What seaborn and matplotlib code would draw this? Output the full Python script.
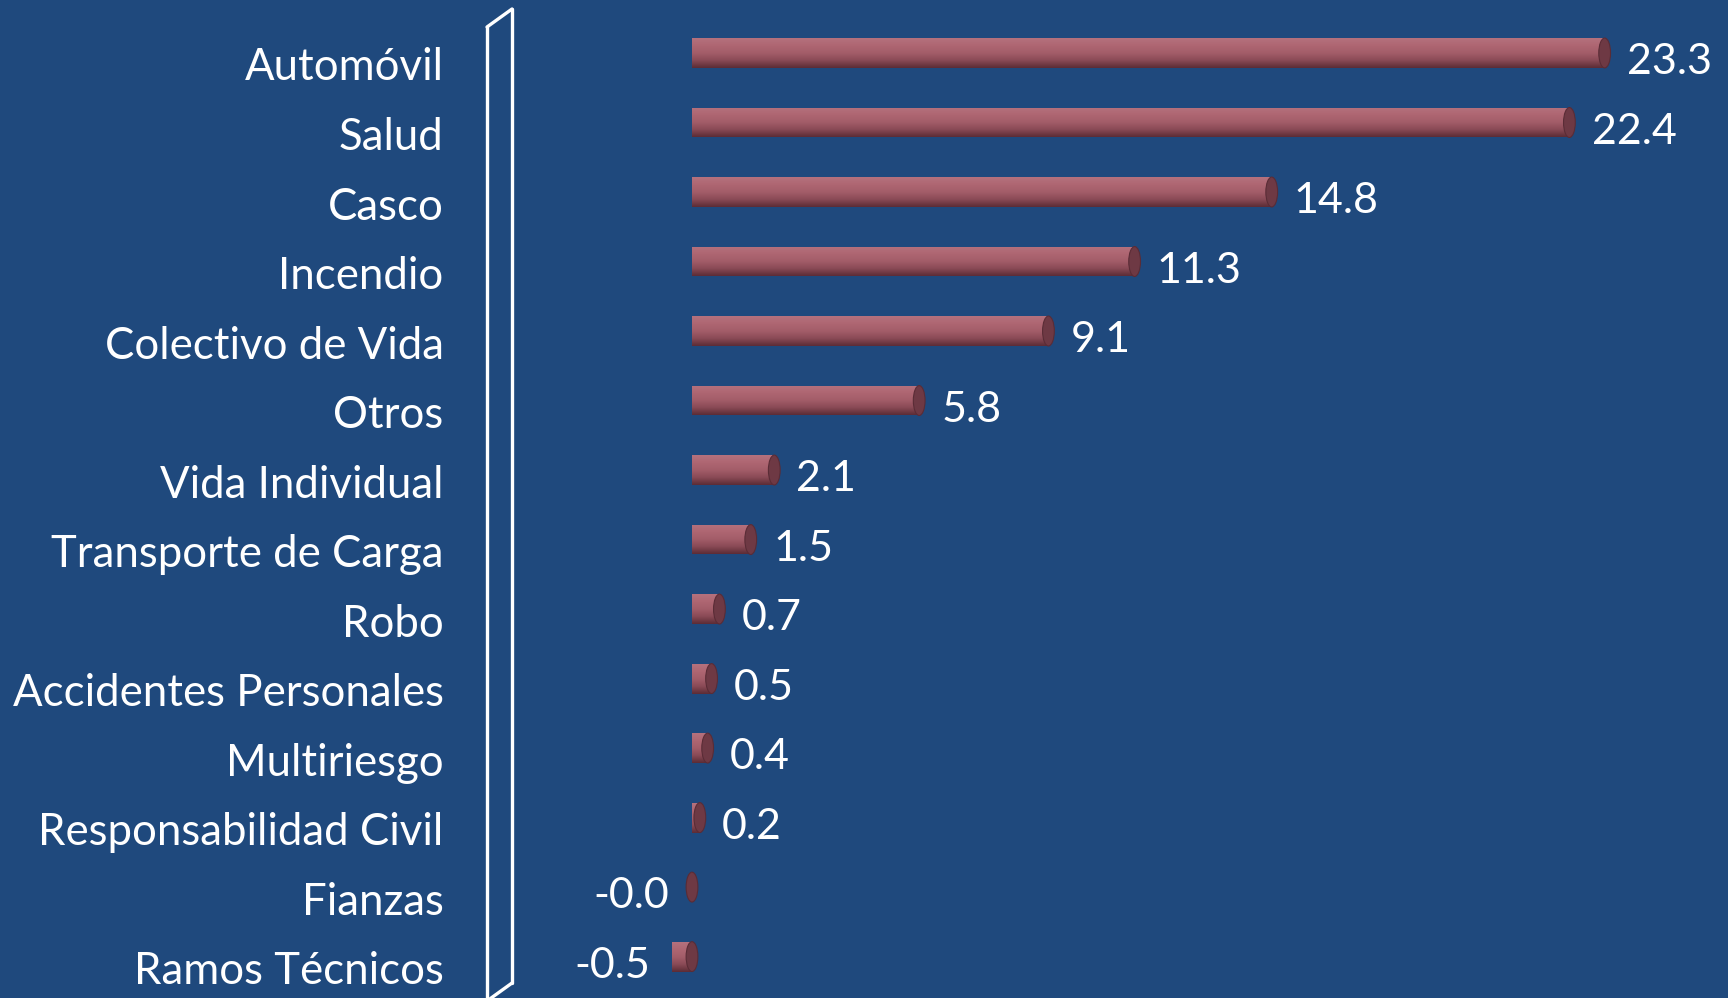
import numpy as np
import pandas as pd
import matplotlib
matplotlib.use("Agg")
import matplotlib.pyplot as plt
import matplotlib.transforms as mtransforms
from matplotlib.patches import Ellipse
from matplotlib.lines import Line2D
from matplotlib.colors import LinearSegmentedColormap
import seaborn as sns

categories = ["Automóvil", "Salud", "Casco", "Incendio", "Colectivo de Vida", "Otros",
              "Vida Individual", "Transporte de Carga", "Robo", "Accidentes Personales",
              "Multiriesgo", "Responsabilidad Civil", "Fianzas", "Ramos Técnicos"]
values = [23.3, 22.4, 14.8, 11.3, 9.1, 5.8, 2.1, 1.5, 0.7, 0.5, 0.4, 0.2, -0.02, -0.5]

BG = "#1F497D"
sns.set_theme(style="white")
plt.rcParams["font.family"] = ["Lato", "DejaVu Sans"]

df = pd.DataFrame({"ramo": categories, "valor": values})

fig = plt.figure(figsize=(17.28, 9.98), dpi=100, facecolor=BG)
ax = fig.add_axes([520 / 1728, 0, 1 - 520 / 1728, 1])
ax.set_facecolor(BG)

bar_w = 0.43
sns.barplot(data=df, y="ramo", x="valor", orient="h", color="#A5606C",
            width=bar_w, ax=ax, saturation=1)

ax.set_xlim((520 - 692) / 39.17, (1728 - 692) / 39.17)
ax.set_ylim(13 + (998 - 956.6) / 69.52, -53 / 69.52)

# cylinder shading
cmap = LinearSegmentedColormap.from_list(
    "cyl", ["#B5717D", "#AE6672", "#A35D69", "#8A4A56", "#5C2C36"])
grad = np.linspace(0, 1, 64).reshape(-1, 1)
for p, v in zip(ax.patches, values):
    x0, y0 = p.get_x(), p.get_y()
    w, h = p.get_width(), p.get_height()
    xa, xb = min(x0, x0 + w), max(x0, x0 + w)
    im = ax.imshow(grad, cmap=cmap, aspect="auto",
                   extent=(xa, xb, y0 + h, y0), zorder=2, interpolation="bicubic")
    im.set_clip_path(p)
    p.set_edgecolor("none")
    cap_w = 0.3
    ax.add_patch(Ellipse((xb, y0 + h / 2), cap_w, h, facecolor="#6E3944",
                         edgecolor="#5A2C36", lw=0.8, zorder=3))

# value labels
fmt = [f"{v:.1f}" for v in values]
anns = ax.bar_label(ax.containers[0], labels=fmt, padding=16, color="white",
                    fontsize=31)
for t in anns:
    xo, yo = t.xyann
    t.xyann = (xo, yo - 6.5)

ax.set_xlabel("")
ax.set_ylabel("")
ax.set_xticks([])
ax.tick_params(axis="y", length=0, pad=55, labelsize=31.5, labelcolor="white")
offset = mtransforms.ScaledTranslation(0, -0.11, fig.dpi_scale_trans)
for lab in ax.get_yticklabels():
    lab.set_transform(lab.get_transform() + offset)
for s in ax.spines.values():
    s.set_visible(False)

# 3D wall outline
def fx(px):
    return px / 1728
def fy(py):
    return 1 - py / 998
wall = [((487, 27), (487, 1003)), ((512, 9), (512, 983)),
        ((487, 27), (512, 9)), ((512, 983), (487, 1001))]
for (a, b) in wall:
    fig.add_artist(Line2D([fx(a[0]), fx(b[0])], [fy(a[1]), fy(b[1])],
                          transform=fig.transFigure, color="white", lw=2.4,
                          solid_capstyle="round"))

fig.savefig("out.png", dpi=100, facecolor=BG)
